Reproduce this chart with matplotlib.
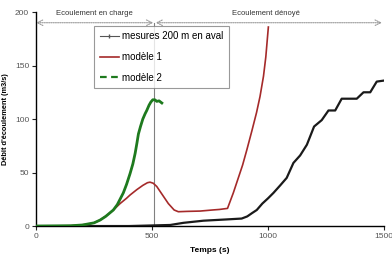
import numpy as np
import matplotlib
matplotlib.use('Agg')
import matplotlib.pyplot as plt
from matplotlib.lines import Line2D

plt.rcParams['font.family'] = ['Liberation Sans', 'DejaVu Sans']

# mesures 200 m en aval
t_mes = [0, 100, 200, 300, 400, 491, 578, 635, 721, 822, 886, 910, 930, 951, 975, 1000, 1023, 1052,
         1080, 1109, 1138, 1167, 1198, 1231, 1260, 1289, 1317, 1350, 1382, 1411, 1440, 1468, 1501]
q_mes = [0, 0, 0, 0, 0, 0.5, 1, 3, 5, 6.2, 7, 9, 12, 15, 21, 26, 31, 38,
         45, 59, 66, 76, 93, 99, 108, 108, 119, 119, 119, 125, 125, 135, 136]

# modèle 1
t_m1 = [0, 150, 218, 250, 276, 305, 333, 362, 390, 405, 434, 460, 480, 491, 505, 520, 545, 570,
        595, 613, 650, 707, 760, 790, 825, 850, 870, 890, 908, 930, 950, 965, 980, 990, 1001]
q_m1 = [0, 0.3, 1.5, 3, 5.6, 10, 15, 21, 26, 29, 34, 38, 40.5, 41, 40, 37, 29, 21,
        15, 13.4, 13.7, 14, 15, 15.5, 16.5, 31, 44, 57, 71, 89, 106, 121, 140, 158, 186]

# modèle 2
t_m2 = [0, 150, 200, 250, 276, 300, 333, 350, 376, 390, 405, 417, 427, 435, 441, 450, 460,
        470, 477, 487, 495, 503, 512, 520, 530, 542]
q_m2 = [0, 0.3, 1, 3, 5.6, 9, 15, 20, 31, 39, 49, 58, 68, 78, 86, 93, 100,
        105, 108, 113, 116, 118, 118, 116.5, 117, 115]

t_limit = 510

fig = plt.figure(figsize=(3.92, 2.56), dpi=100)
ax = fig.add_axes([0.092, 0.117, 0.888, 0.836])

ax.axvline(t_limit, ymin=0, ymax=190 / 200, color='#808080', lw=0.8, zorder=1)
ax.plot(t_mes, q_mes, color='#1a1a1a', lw=1.6, zorder=3)
ax.plot(t_m1, q_m1, color='#a52a2a', lw=1.2, zorder=3)
ax.plot(t_m2, q_m2, color='#1e7a1e', lw=2.0, zorder=4)

ax.set_xlim(0, 1500)
ax.set_ylim(0, 200)
ax.set_xticks([0, 500, 1000, 1500])
ax.set_yticks([0, 50, 100, 150, 200])
for s in ['top', 'right']:
    ax.spines[s].set_visible(False)
for s in ['left', 'bottom']:
    ax.spines[s].set_linewidth(1.0)
ax.tick_params(direction='out', length=3, width=0.8, labelsize=6, colors='#222222',
               labelcolor='#555555', pad=2)

ax.set_xlabel('Temps (s)', fontsize=6, fontweight='bold', labelpad=5)
ax.set_ylabel("Débit d'écoulement (m3/s)", fontsize=5.3, fontweight='bold', labelpad=4)

arrow = dict(arrowstyle='<->', ls=(0, (1, 1)), color='#999999', lw=0.8,
             shrinkA=0, shrinkB=0)
ax.annotate('', xy=(0, 190), xytext=(t_limit - 5, 190), arrowprops=arrow, annotation_clip=False)
ax.annotate('', xy=(t_limit + 5, 190), xytext=(1490, 190), arrowprops=arrow, annotation_clip=False)
ax.text(250, 199, 'Ecoulement en charge', fontsize=5.5, ha='center', va='center',
        color='#333333', clip_on=False)
ax.text(990, 199, 'Ecoulement dénoyé', fontsize=5.5, ha='center', va='center',
        color='#333333', clip_on=False)

handles = [Line2D([], [], color='#555555', lw=0.8, marker='|', markersize=2.5),
           Line2D([], [], color='#a52a2a', lw=1.2),
           Line2D([], [], color='#1e7a1e', lw=1.6, ls=(0, (3, 2)))]
labels = ['mesures 200 m en aval', 'modèle 1', 'modèle 2']
leg = ax.legend(handles, labels, loc='upper left', bbox_to_anchor=(0.167, 0.935),
                borderaxespad=0, fontsize=7, frameon=True, fancybox=False,
                edgecolor='#808080', handlelength=2.0, handletextpad=0.35,
                labelspacing=1.1, borderpad=0.55)
leg.get_frame().set_linewidth(0.8)
leg.set_zorder(6)

fig.savefig('out.png', dpi=100)
